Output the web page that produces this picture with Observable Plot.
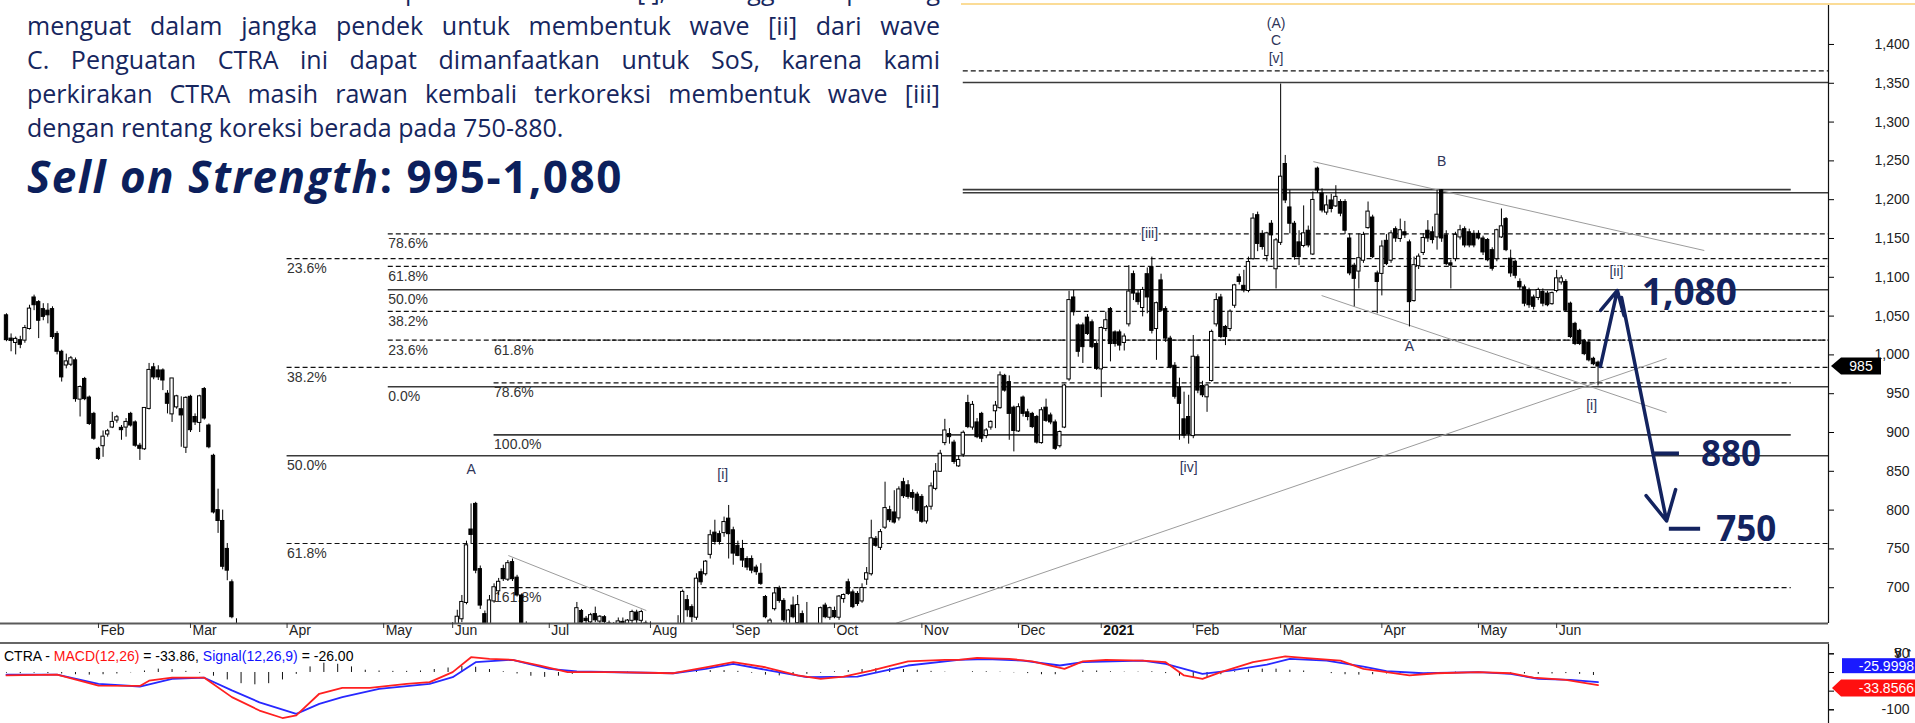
<!DOCTYPE html>
<html><head><meta charset="utf-8">
<script src="https://cdn.jsdelivr.net/npm/d3@7"></script>
<script src="https://cdn.jsdelivr.net/npm/@observablehq/plot@0.6"></script>
<style>
html,body{margin:0;padding:0;background:#fff;}
#wrap{position:relative;width:1915px;height:723px;overflow:hidden;background:#fff;}
#main{position:absolute;left:0;top:0;}
#macd{position:absolute;left:0;top:644px;}
#topline{position:absolute;left:0;top:3px;width:1915px;height:2px;background:#fbdc97;}
#textbox{position:absolute;left:0;top:0;width:961px;height:205px;background:#fff;overflow:hidden;}
.pl{position:absolute;left:27px;width:913px;font-family:"Open Sans",sans-serif;font-size:25px;line-height:34px;color:#16265e;white-space:normal;}
.j{text-align:justify;text-align-last:justify;}
#head{position:absolute;left:27px;top:155px;font-family:"Open Sans",sans-serif;font-weight:700;font-size:44px;line-height:43px;letter-spacing:1.5px;color:#0c1f5c;white-space:nowrap;}
#sep{position:absolute;left:0;top:642px;width:1829px;height:2px;background:#666;}
#mtitle{position:absolute;left:4px;top:648px;font:14px "Liberation Sans",Arial,sans-serif;color:#000;white-space:nowrap;}
</style></head>
<body>
<div id="wrap">
  <div id="main"></div>
  <div id="topline"></div>
  <div id="textbox">
    <div class="pl j" style="top:-27px">Posisi CTRA saat ini berada pada akhir wave [i], sehingga berpeluang</div>
    <div class="pl j" style="top:8px">menguat dalam jangka pendek untuk membentuk wave [ii] dari wave</div>
    <div class="pl j" style="top:42px">C. Penguatan CTRA ini dapat dimanfaatkan untuk SoS, karena kami</div>
    <div class="pl j" style="top:76px">perkirakan CTRA masih rawan kembali terkoreksi membentuk wave [iii]</div>
    <div class="pl" style="top:110px">dengan rentang koreksi berada pada 750-880.</div>
    <div id="head"><i>Sell on Strength</i>: 995-1,080</div>
  </div>
  <div id="sep"></div>
  <div id="macd"></div>
  <div id="mtitle">CTRA - <span style="color:#ff1010">MACD(12,26)</span> = -33.86, <span style="color:#1010ff">Signal(12,26,9)</span> = -26.00</div>
</div>
<script>
// ---------- DATA ----------
// trading-day index of first candle (index 0 = 2 Jan 2020)
const firstDay = 2;
// daily candles [open, high, low, close]
const ohlc = [
[1051,1053,1017,1019],[1021,1027,1004,1018],[1016,1023,1000,1020],[1019,1024,1008,1013],[1019,1038,1015,1034],
[1034,1064,1032,1059],[1074,1077,1057,1064],[1068,1070,1021,1044],[1059,1066,1044,1049],[1057,1066,1040,1051],
[1059,1062,1020,1023],[1027,1030,1000,1004],[1004,1006,965,971],[987,1001,982,991],[988,998,985,995],
[993,996,939,943],[943,960,920,958],[969,971,941,943],[945,947,909,911],[924,926,890,892],
[879,881,864,866],[883,902,868,894],[898,904,894,901],[907,926,905,913],[916,922,912,919],
[906,909,890,903],[907,918,894,913],[924,926,907,909],[913,915,881,883],[883,886,864,879],
[879,931,877,931],[931,989,929,980],[984,989,968,971],[980,986,967,971],[980,982,954,967],
[950,954,924,937],[924,969,913,969],[933,948,930,946],[930,946,881,922],[881,946,873,944],
[946,948,900,903],[920,924,909,913],[913,948,900,946],[956,958,916,918],[909,911,879,881],
[870,872,795,797],[800,827,770,786],[786,800,723,727],[750,757,709,722],[707,710,660,662],
[650,660,610,620],
[625,650,590,600],[600,620,560,570],[560,590,520,530],[530,560,490,500],[500,520,450,460],
[470,500,430,440],[440,470,410,420],[420,450,400,440],[450,500,440,490],[500,540,480,520],
[520,540,490,500],[500,530,480,520],[520,560,510,550],[550,570,530,540],[540,580,530,570],
[570,590,550,560],[560,600,550,590],[590,610,570,580],[580,590,550,560],[560,575,540,545],
[545,560,530,550],[550,580,545,570],[570,590,560,580],[580,600,565,575],[575,585,550,555],
[555,570,540,560],[560,575,545,550],[550,560,530,540],[540,555,525,545],[545,560,535,550],
[550,565,540,545],[545,555,520,525],[525,540,515,535],[535,545,520,525],[525,535,505,510],
[510,525,500,520],[520,530,505,515],[515,535,510,530],[530,560,525,555],[555,580,550,575],
[575,600,570,590],[590,615,585,605],[605,625,595,620],[620,640,610,630],[630,648,620,640],
[640,650,625,635],[635,655,630,645],
[645,671,640,662],[660,690,655,681],[681,760,678,754],[775,808,757,768],[808,810,718,722],
[724,728,672,677],[666,670,640,648],[648,690,645,683],[683,705,680,700],[696,712,690,707],
[724,729,708,711],[711,735,708,731],[733,737,708,711],[713,716,688,690],[690,692,648,652],
[650,656,630,640],
[640,650,628,635],[635,645,625,630],[630,640,618,625],[625,642,620,638],[638,648,630,632],
[632,645,625,640],[640,650,632,636],[636,645,625,628],[628,648,624,645],[645,652,640,650],
[652,681,648,673],[670,672,650,655],[660,663,652,657],[656,667,650,664],[666,675,655,658],
[657,664,652,662],[662,664,650,656],[654,657,640,648],[648,655,640,650],[652,661,648,656],
[656,661,650,653],[654,659,648,657],[658,671,652,668],[668,671,653,658],[658,671,652,668],
[654,657,645,650],[651,656,640,648],
[648,652,635,640],[640,648,630,645],[645,650,636,638],[638,646,630,642],[642,650,635,640],
[640,664,635,652],[652,697,648,694],[684,690,662,671],[675,678,655,662],[662,718,658,711],
[720,724,703,707],[718,735,715,733],[743,774,737,767],[771,787,755,759],[769,773,755,759],
[771,791,765,784],[789,806,737,769],[774,778,729,744],[754,760,740,741],[750,761,726,735],
[737,740,722,726],[737,741,718,722],[726,729,716,720],[718,731,703,705],[688,690,660,662],
[648,660,640,657],[673,700,670,692],[699,702,680,683],[683,686,655,658],[645,672,640,670],
[677,688,660,662],[655,690,650,677],[666,670,645,652],[650,681,640,648],[645,652,630,640],
[640,650,632,645],[645,675,640,673],[677,680,660,662],[662,675,658,673],[670,675,660,662],
[662,690,658,688],[686,692,680,690],[707,711,690,692],[694,697,673,675],[692,695,676,679],
[683,705,680,699],[711,726,703,718],[718,787,715,763],[763,766,752,754],[752,775,748,771],
[778,836,775,802],[800,805,784,787],[797,825,782,784],[790,830,786,826],[836,841,815,818],
[832,838,814,817],[822,826,800,816],[820,823,795,799],[817,820,783,785],[786,806,782,803],
[805,835,800,830],[828,860,825,849],[850,877,849,872],[887,917,883,902],[898,905,885,894],
[887,890,859,862],[857,870,855,864],[872,902,868,899],[938,948,905,907],[907,940,903,935],
[913,918,892,894],[924,926,887,892],[896,905,892,902],[907,915,903,913],[928,940,905,934],
[932,978,930,973],[973,975,952,954],[965,973,890,924],[932,934,875,902],[902,937,900,932],
[945,947,920,924],[926,930,915,920],[924,926,905,907],[920,922,885,887],[887,932,885,928],
[932,943,913,915],[922,925,910,913],[913,916,877,879],[883,902,880,900],[907,962,905,960],
[969,1082,966,1070],[1074,1083,1050,1055],[1038,1040,997,1004],[1038,1041,989,1010],[1048,1052,1025,1027],
[1042,1045,1008,1010],[1014,1017,980,982],[982,1036,945,1034],[1034,1055,1030,1044],[1059,1061,991,1014],
[1029,1031,1010,1014],[1029,1032,1005,1012],[1016,1027,1005,1023],[1040,1115,1036,1081],[1104,1108,1070,1079],
[1079,1083,1064,1068],[1061,1087,1049,1083],[1104,1112,1053,1074],[1113,1126,1027,1031],[1034,1068,993,1066],
[1096,1104,1055,1057],[1059,1062,1016,1021],[1021,1024,982,984],[986,990,943,946],[958,970,890,937],
[917,952,892,896],[920,948,885,898],[896,1025,892,997],[997,1000,950,954],[960,966,945,948],
[946,962,926,960],[967,1032,965,1029],[1040,1079,1036,1070],[1074,1078,1021,1023],[1036,1038,1012,1023],
[1034,1058,1030,1055],[1064,1091,1060,1089],[1100,1104,1090,1094],[1089,1109,1080,1083],[1083,1126,1080,1119],
[1124,1182,1122,1175],[1180,1184,1133,1143],[1156,1160,1135,1139],[1128,1158,1120,1156],[1169,1173,1122,1154],
[1111,1150,1085,1147],[1145,1349,1141,1229],[1246,1257,1195,1199],[1190,1212,1156,1169],[1169,1172,1122,1126],
[1145,1160,1115,1126],[1141,1192,1138,1156],[1160,1166,1138,1141],[1130,1210,1128,1199],[1240,1242,1208,1212],
[1208,1214,1183,1186],[1184,1205,1180,1192],[1199,1207,1183,1188],[1192,1218,1190,1203],[1197,1200,1178,1182],
[1197,1200,1155,1160],[1150,1156,1102,1105],[1115,1118,1062,1098],[1108,1156,1085,1124],[1122,1158,1118,1154],
[1164,1197,1162,1184],[1177,1180,1124,1126],[1105,1108,1053,1094],[1105,1147,1076,1139],[1147,1155,1115,1117],
[1122,1160,1118,1156],[1162,1165,1145,1150],[1150,1175,1145,1160],[1158,1172,1150,1154],[1145,1148,1036,1068],
[1070,1126,1068,1115],[1115,1130,1110,1126],[1132,1156,1128,1150],[1160,1173,1145,1150],[1158,1165,1143,1148],
[1152,1212,1135,1180],[1212,1213,1145,1150],[1154,1160,1115,1117],[1118,1122,1085,1115],[1124,1158,1120,1154],
[1152,1167,1148,1160],[1162,1165,1138,1141],[1158,1162,1138,1141],[1156,1160,1138,1141],[1156,1160,1148,1150],
[1150,1153,1128,1132],[1148,1150,1120,1122],[1135,1138,1108,1111],[1124,1162,1120,1160],[1152,1188,1150,1165],
[1175,1177,1133,1135],[1124,1135,1100,1105],[1120,1122,1098,1102],[1094,1098,1083,1087],[1087,1090,1062,1066],
[1083,1086,1060,1064],[1074,1077,1058,1062],[1074,1086,1070,1083],[1081,1085,1062,1066],[1079,1082,1062,1064],
[1066,1081,1064,1079],[1083,1109,1080,1098],[1094,1102,1090,1098],[1094,1097,1055,1057],[1066,1068,1021,1023],
[1040,1042,1012,1014],[1031,1033,1012,1014],[1018,1020,999,1001],[1016,1018,991,993],[995,997,986,988],
[990,992,960,985]
];
// month ticks (trading-day index) and labels
const monthIdx = [22,42,63,84,99,120,142,160,182,201,222,240,260,279,301,322,339];
const monthLab = ["Feb","Mar","Apr","May","Jun","Jul","Aug","Sep","Oct","Nov","Dec","2021","Feb","Mar","Apr","May","Jun"];
const priceTicks = [700,750,800,850,900,950,1000,1050,1100,1150,1200,1250,1300,1350,1400];
// horizontal levels: price, first day, last day
const solidLevels = [
  {p:1351,from:210,to:398.1},{p:1213,from:210,to:390},{p:1209,from:210,to:398.1},
  {p:1084,from:85,to:398.1},{p:959,from:85,to:398.1},{p:897,from:108,to:390},{p:870,from:63,to:398.1}
];
const dashedLevels = [
  {p:1366,from:210,to:398.1},{p:1156,from:85,to:398.1},{p:1124,from:63,to:398.1},{p:1114,from:85,to:398.1},
  {p:1056,from:85,to:398.1},{p:1019,from:85,to:398.1},{p:984,from:63,to:398.1},{p:964,from:108,to:390},
  {p:757,from:63,to:398.1},{p:700,from:108,to:390}
];
const denseLevels = [{p:1019,from:108,to:398.1}];
// Fibonacci labels
const fibLabels = [
  {t:"78.6%",i:85,p:1156},{t:"23.6%",i:63,p:1124},{t:"61.8%",i:85,p:1114},{t:"50.0%",i:85,p:1084},
  {t:"38.2%",i:85,p:1056},{t:"23.6%",i:85,p:1019},{t:"61.8%",i:108,p:1019},{t:"38.2%",i:63,p:984},
  {t:"0.0%",i:85,p:959},{t:"78.6%",i:108,p:964},{t:"100.0%",i:108,p:897},{t:"50.0%",i:63,p:870},
  {t:"61.8%",i:63,p:757},{t:"161.8%",i:108,p:700}
];
// trend lines: from (day a, price pa) to (day b, price pb)
const trendLines = [
  {a:286.1,pa:1249,b:371.1,pb:1134.5},
  {a:287.9,pa:1076.5,b:362.9,pb:925.8},
  {a:195.3,pa:654,b:362.9,pb:995.4},
  {a:111.1,pa:741.5,b:141.1,pb:670.6}
];
// Elliott wave labels
const waveLabels = [
  {t:"(A)",i:278,p:1427},{t:"C",i:278,p:1405},{t:"[v]",i:278,p:1382},{t:"B",i:314,p:1249},
  {t:"[iii]",i:250.5,p:1157},{t:"A",i:307,p:1011},{t:"[i]",i:346.6,p:935},{t:"[iv]",i:259,p:855},
  {t:"A",i:103,p:852},{t:"[i]",i:157.7,p:846},{t:"[ii]",i:352,p:1107}
];
// projection arrows and targets
const projArrows = [{x1:348.5,y1:985,x2:352.2,y2:1083},{x1:353.1,y1:1074,x2:362.9,y2:786}];
const targetMarks = [{p:873,from:360.3,to:365.7},{p:776,from:363.5,to:370.3}];
const targetLabels = [{t:"1,080",i:357.5,p:1080,s:37},{t:"880",i:370.4,p:871,s:35},{t:"750",i:373.7,p:775,s:35}];
// MACD(12,26) and Signal(9): [day, value]
const macdPts = [[2,-8],[13,-5.5],[22,-35],[31,-36],[33,-22],[38,-14],[45,-14],[51,-66],[57,-102],[62,-122],[65,-115],[70,-57],[75,-41],[81,-41],[89,-30.5],[94,-26],[99,1],[103,41],[107,36.6],[112,34],[118,18.7],[124,1],[134,1],[147,-2],[154,14],[160,27.6],[167,14],[174,-8],[179,-17],[184,-11],[190,5],[198,30],[206,34],[209,34],[213,39],[220,36.6],[225,30],[232,9.7],[236,30],[241,34],[249,32],[254,27.6],[258,-8],[262,-17],[266,1],[273,27.6],[280,43],[284,39],[292,32],[297,9.7],[302,1],[307,-8],[313,-2],[322,1],[329,-2],[334,-14],[341,-20],[344,-26],[348,-33.86]];
const signalPts = [[2,-5.5],[13,-5.5],[22,-30.5],[31,-37.6],[38,-17],[45,-14],[51,-48],[57,-80],[65,-111],[70,-84],[75,-66],[83,-44],[94,-30.5],[99,-12.6],[104,27.6],[112,34],[120,9.7],[126,2.6],[147,-2],[154,9.7],[160,23],[168,5],[176,-12.6],[187,-11],[198,18.7],[209,34],[215,35.7],[223,32],[231,18.7],[236,27.6],[249,32],[254,23],[262,-3.7],[268,5],[276,21],[281,36.6],[289,32],[297,16],[302,3.5],[310,-2],[322,1],[329,-3.7],[335,-17],[342,-20],[348,-26]];
// MACD histogram read every 3rd day starting at day 2
const histStart = 2, histStep = 3;
const histVals = [-2,-3,-2,-3,-4,-6,-7,-6,-4,-1, 4,9,8,3,-2,-10,-20,-30,-33,-30, -20,-5,15,25,22,15,6,4,3,3,
 4,8,12,16,14,8,2,-4,-10,-13, -10,-5,-2,-1,0,1,-1,-1,0,2, 4,5,5,3,-2,-7,-9,-8,-5,-2, 2,5,8,10,10,8,6,3,1,0,
 2,2,1,-1,-3,-6,-6,0,4,4, 2,1,1,2,-3,-10,-16,-14,-6,2, 7,9,9,6,4,0,-3,-6,-7,-6, -4,-3,-3,-1,0,1,0,0,-1,-2,
 -4,-5,-4,-3,-5,-8];
const macdTicks = [50,0,-50,-100];
const macdTickLabels = [50,-100];
const lastMacd = -33.8566, lastSignal = -25.9998;

// ---------- CHART ----------
const X0 = 0.7, X1 = 398.1;
const font = "Liberation Sans, Arial, sans-serif";
const navy = "#13235f";
const candles = ohlc.map((d,k)=>({i:firstDay+k,o:d[0],h:d[1],l:d[2],c:d[3]}));
const up = candles.filter(d=>d.c>=d.o), dn = candles.filter(d=>d.c<d.o);
const lastClose = candles[candles.length-1].c;

const main = Plot.plot({
  width:1915, height:644, marginLeft:0, marginRight:87, marginTop:4, marginBottom:21,
  x:{domain:[X0,X1], axis:null}, y:{domain:[653.9,1451.5], axis:null},
  style:{fontFamily:font, fontSize:"14px", background:"transparent", overflow:"visible"},
  marks:[
    Plot.ruleY(solidLevels,{y:"p",x1:"from",x2:"to",stroke:"#3a3a3a",strokeWidth:1.6}),
    Plot.ruleY(dashedLevels,{y:"p",x1:"from",x2:"to",stroke:"#111",strokeWidth:1.2,strokeDasharray:"5,3"}),
    Plot.ruleY(denseLevels,{y:"p",x1:"from",x2:"to",stroke:"#111",strokeWidth:1.4,strokeDasharray:"3,2",strokeDashoffset:1}),
    Plot.text(fibLabels,{x:"i",y:"p",text:"t",textAnchor:"start",dy:10,fill:"#333",fontSize:14}),
    Plot.link(trendLines,{x1:"a",y1:"pa",x2:"b",y2:"pb",stroke:"#9c9c9c",strokeWidth:1}),
    Plot.ruleX(candles,{x:"i",y1:"l",y2:"h",stroke:"#000",strokeWidth:1,clip:true}),
    Plot.rect(up,{x1:d=>d.i-0.36,x2:d=>d.i+0.36,y1:"o",y2:"c",fill:"#fff",stroke:"#000",strokeWidth:1,insetTop:-0.5,insetBottom:-0.5,clip:true}),
    Plot.rect(dn,{x1:d=>d.i-0.36,x2:d=>d.i+0.36,y1:"o",y2:"c",fill:"#000",stroke:"#000",strokeWidth:1,clip:true}),
    Plot.text(waveLabels,{x:"i",y:"p",text:"t",fill:"#2f3559",stroke:"#fff",strokeWidth:3,fontSize:14}),
    Plot.ruleY([653.9],{stroke:"#5a5a5a",strokeWidth:2}),
    Plot.ruleX([X1],{stroke:"#111",strokeWidth:1.2}),
    Plot.axisX(monthIdx,{anchor:"bottom",tickSize:5,tickFormat:()=>"",stroke:"#333"}),
    Plot.text(monthIdx.filter((d,k)=>monthLab[k]!=="2021"),{x:d=>d,frameAnchor:"bottom",dy:11,dx:2,textAnchor:"start",text:d=>monthLab[monthIdx.indexOf(d)],fill:"#222",fontSize:14}),
    Plot.text(monthIdx.filter((d,k)=>monthLab[k]==="2021"),{x:d=>d,frameAnchor:"bottom",dy:11,dx:2,textAnchor:"start",text:d=>"2021",fill:"#111",fontSize:14,fontWeight:"bold"}),
    Plot.axisY(priceTicks,{anchor:"right",tickSize:5,tickPadding:76,textAnchor:"end",tickFormat:d3.format(","),fill:"#222",fontSize:14}),
    Plot.arrow(projArrows,{x1:"x1",y1:"y1",x2:"x2",y2:"y2",stroke:navy,strokeWidth:3.5,headLength:14,headAngle:55}),
    Plot.ruleY(targetMarks,{y:"p",x1:"from",x2:"to",stroke:navy,strokeWidth:4}),
    Plot.text(targetLabels.filter(d=>d.s===37),{x:"i",y:"p",text:"t",textAnchor:"start",fill:navy,fontSize:37,fontWeight:"bold",fontFamily:"Open Sans, sans-serif"}),
    Plot.text(targetLabels.filter(d=>d.s===35),{x:"i",y:"p",text:"t",textAnchor:"start",fill:navy,fontSize:35,fontWeight:"bold",fontFamily:"Open Sans, sans-serif"})
  ]
});
document.getElementById("main").appendChild(main);
{
  const ys = main.scale("y"), xs = main.scale("x");
  const ty = ys.apply(lastClose), tx = xs.apply(X1);
  const g = d3.select(main).append("g");
  g.append("path").attr("d",`M${tx+3},${ty} L${tx+13},${ty-8.5} H${tx+53} V${ty+8.5} H${tx+13} Z`).attr("fill","#000");
  g.append("text").attr("x",tx+33).attr("y",ty+5).attr("text-anchor","middle").attr("fill","#fff")
    .attr("font-family",font).attr("font-size",14).text(d3.format(",")(lastClose));
}

const hist = histVals.map((v,k)=>({i:histStart+k*histStep,v}));
const mac = Plot.plot({
  width:1915, height:79, marginLeft:0, marginRight:87, marginTop:0, marginBottom:0,
  x:{domain:[X0,X1], axis:null}, y:{domain:[-136.7,75], axis:null},
  style:{fontFamily:font, fontSize:"14px", background:"transparent", overflow:"visible"},
  marks:[
    Plot.ruleX(hist,{x:"i",y1:0,y2:"v",stroke:"#111",strokeWidth:1}),
    Plot.line(signalPts,{x:d=>d[0],y:d=>d[1],stroke:"#2828ff",strokeWidth:1.8}),
    Plot.line(macdPts,{x:d=>d[0],y:d=>d[1],stroke:"#ff2020",strokeWidth:1.8}),
    Plot.ruleX([X1],{stroke:"#111",strokeWidth:1.2}),
    Plot.axisY(macdTicks,{anchor:"right",tickSize:5,text:null}),
    Plot.axisY(macdTickLabels,{anchor:"right",tickSize:5,tickPadding:76,textAnchor:"end",tickFormat:d=>d,fill:"#222",fontSize:14})
  ]
});
document.getElementById("macd").appendChild(mac);
{
  const ys = mac.scale("y"), xs = mac.scale("x");
  const tx = xs.apply(X1);
  const yb = ys.apply(lastSignal) - 16, yr = ys.apply(lastMacd) + 3.5;
  const g = d3.select(mac).append("g");
  g.append("rect").attr("x",tx+14).attr("y",yb-7.5).attr("width",73).attr("height",15).attr("fill","#1a1aff");
  g.append("text").attr("x",tx+86).attr("y",yb+5).attr("text-anchor","end").attr("fill","#fff")
    .attr("font-family",font).attr("font-size",14).text(lastSignal.toFixed(4));
  g.append("path").attr("d",`M${tx+4},${yr} L${tx+13},${yr-8.5} H${tx+87} V${yr+8.5} H${tx+13} Z`).attr("fill","#ff1010");
  g.append("text").attr("x",tx+86).attr("y",yr+5).attr("text-anchor","end").attr("fill","#fff")
    .attr("font-family",font).attr("font-size",14).text(lastMacd.toFixed(4));
}
</script>
</body></html>
